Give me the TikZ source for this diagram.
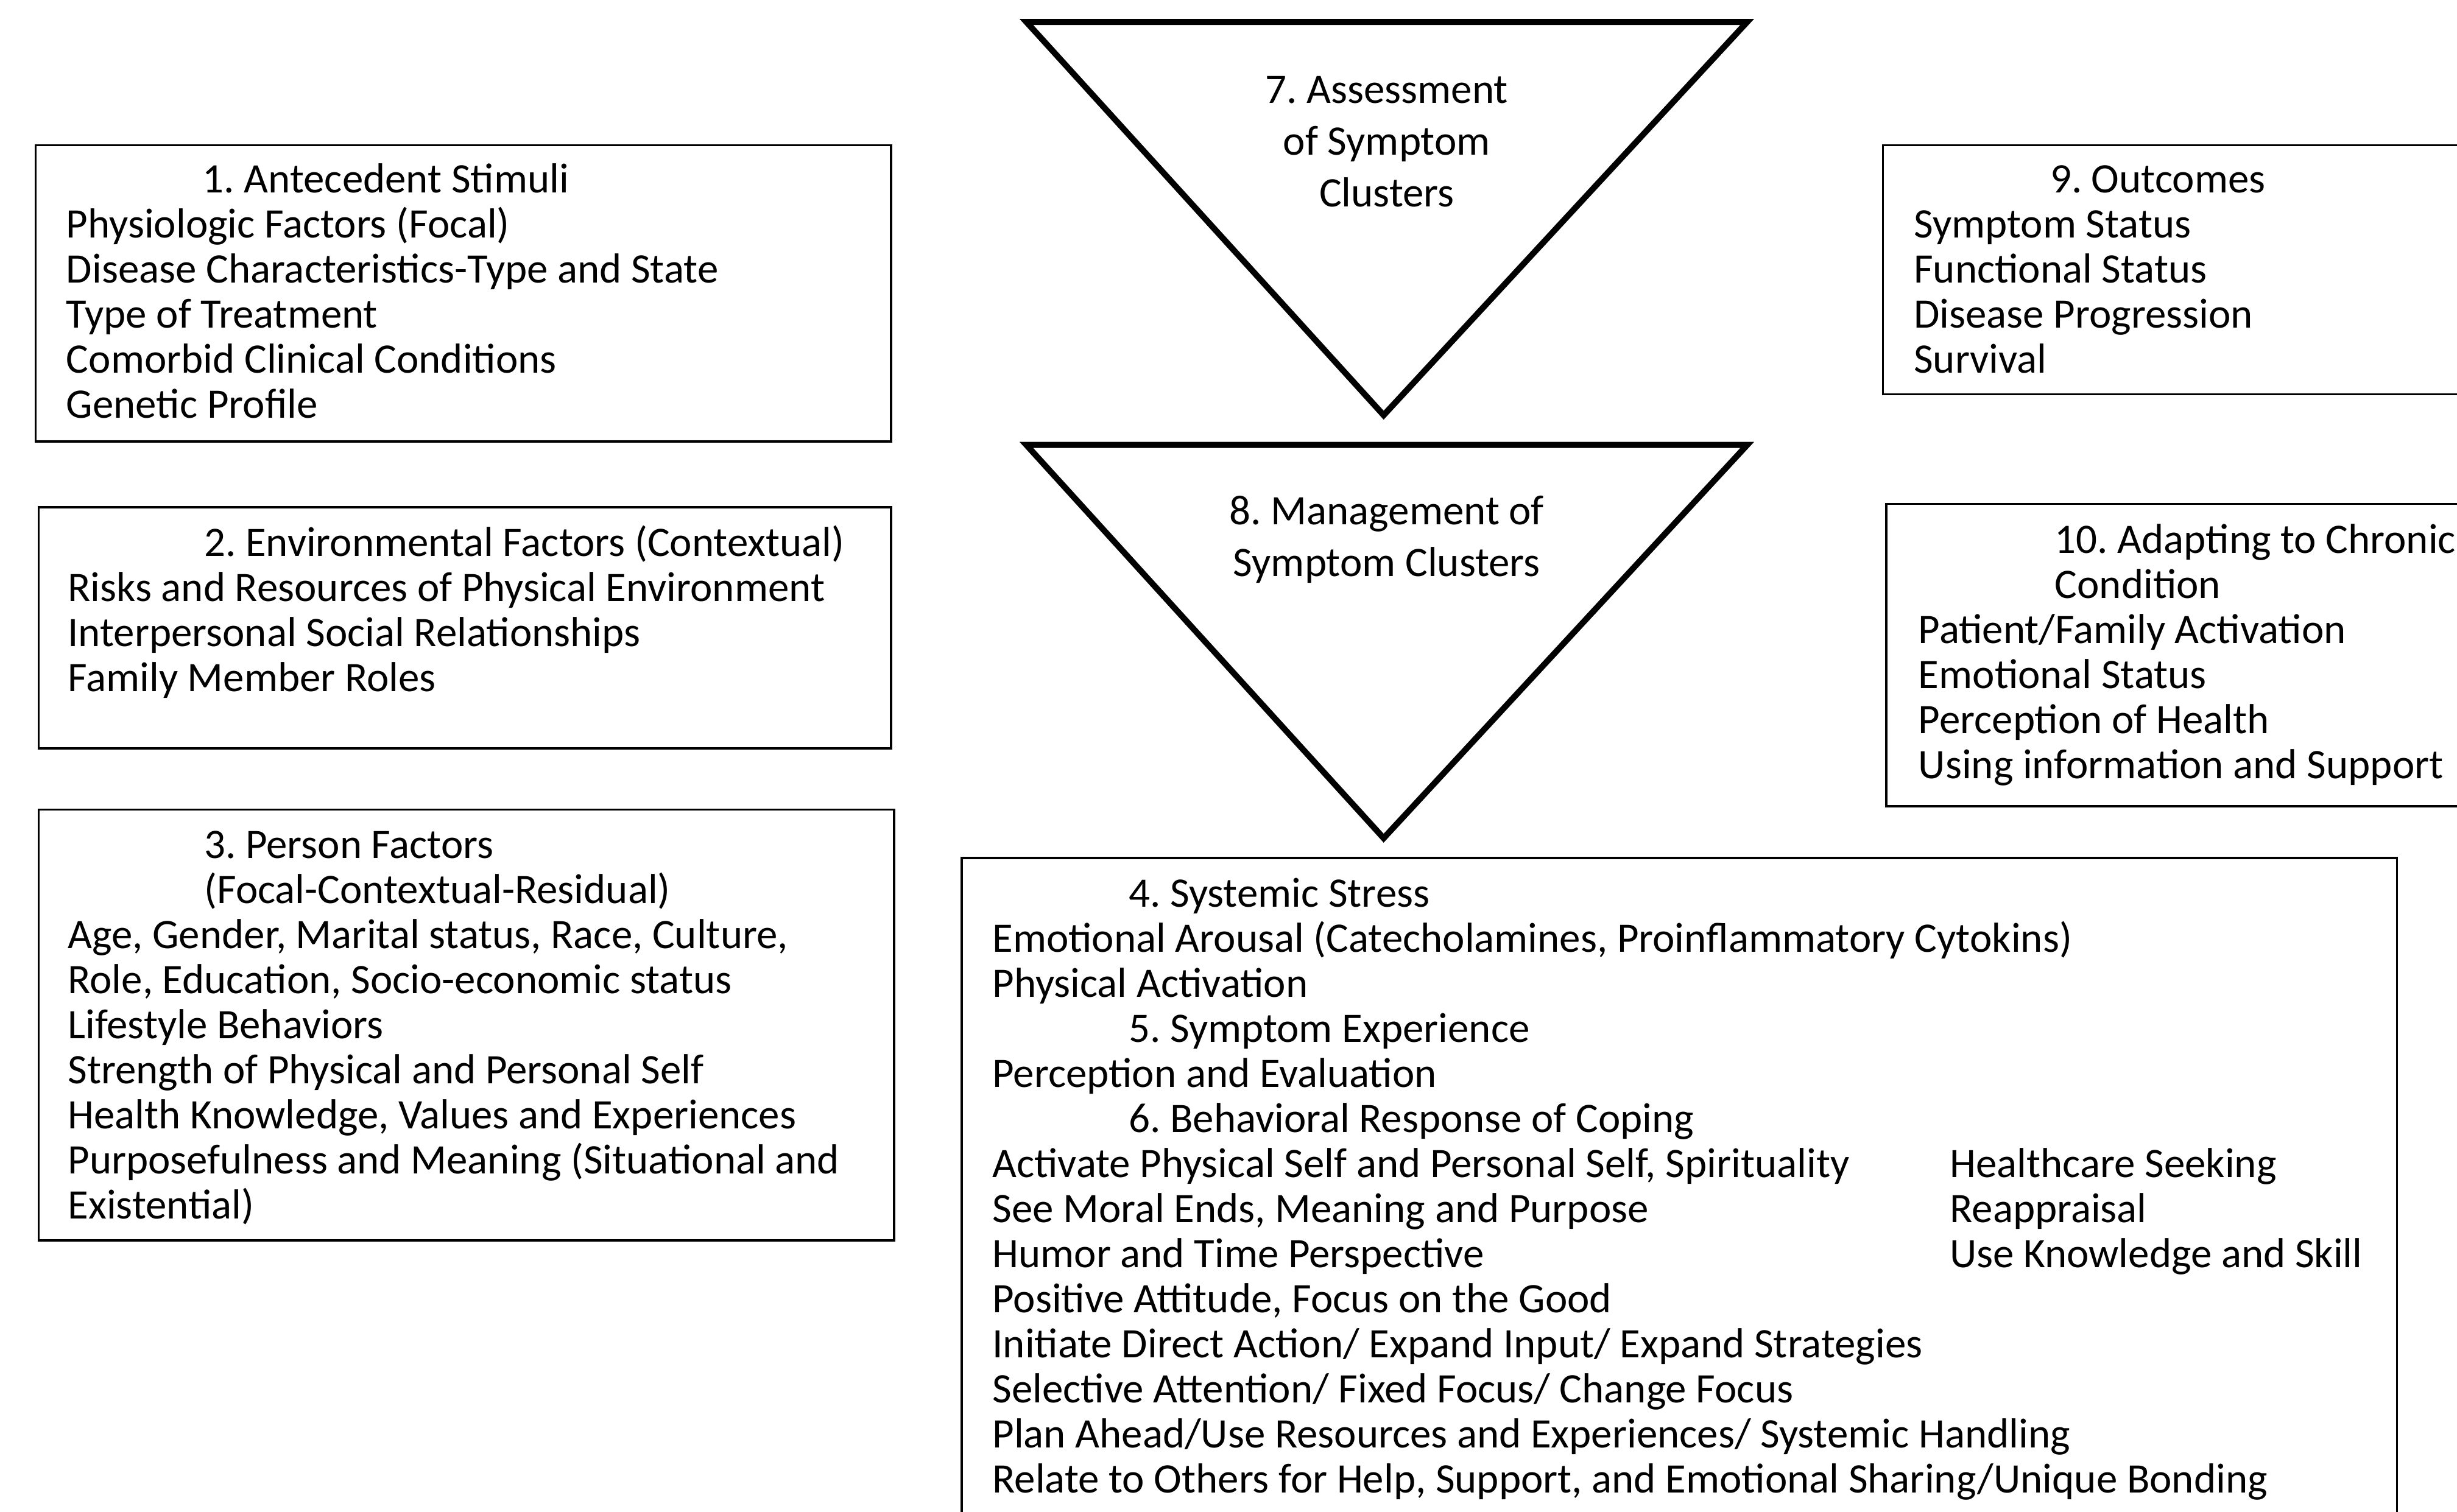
\documentclass[tikz,border=0pt]{standalone}
\usepackage{fontspec}
\setmainfont{Carlito}
\usetikzlibrary{positioning}

\newcommand{\hind}{\hspace*{1.74cm}}
\frenchspacing

\begin{document}
\begin{tikzpicture}[font=\fontsize{15.25}{18}\selectfont,
    box/.style={draw, line width=0.8pt, anchor=north west, inner sep=0pt},
    tri/.style={draw, line width=2.2pt, line join=miter},
    item/.style={anchor=base west, inner sep=0pt},
    ctext/.style={anchor=base, inner sep=0pt}]

    \useasboundingbox (0,0) rectangle (31.36,-19.3);
    \clip (0,0) rectangle (31.36,-19.3);

    % left column
    \node[box, minimum width=10.92cm, minimum height=3.78cm] (stim) at (0.44,-1.84) {};
    \foreach \t [count=\i from 0] in {\hind 1. Antecedent Stimuli, Physiologic Factors (Focal),
        Disease Characteristics-Type and State, Type of Treatment,
        Comorbid Clinical Conditions, Genetic Profile}
        \node[item] (stim-\i) at (0.84,{-2.46-0.575*\i}) {\t};

    \node[box, minimum width=10.88cm, minimum height=3.08cm] (env) at (0.48,-6.46) {};
    \foreach \t [count=\i from 0] in {\hind 2. Environmental Factors (Contextual),
        Risks and Resources of Physical Environment,
        Interpersonal Social Relationships, Family Member Roles}
        \node[item] (env-\i) at (0.86,{-7.10-0.575*\i}) {\t};

    \node[box, minimum width=10.92cm, minimum height=5.50cm] (person) at (0.48,-10.32) {};
    \foreach \t [count=\i from 0] in {\hind 3. Person Factors, \hind (Focal-Contextual-Residual),
        {Age, Gender, Marital status, Race, Culture,},
        {Role, Education, Socio-economic status}, Lifestyle Behaviors,
        Strength of Physical and Personal Self,
        {Health Knowledge, Values and Experiences},
        Purposefulness and Meaning (Situational and, Existential)}
        \node[item] (person-\i) at (0.86,{-10.96-0.575*\i}) {\t};

    % middle triangles
    \draw[tri] (13.10,-0.28) -- (22.30,-0.28) -- (17.66,-5.30) -- cycle;
    \foreach \t [count=\i from 0] in {7. Assessment, of Symptom, Clusters}
        \node[ctext] (assess-\i) at (17.70,{-1.32-0.66*\i}) {\t};

    \draw[tri] (13.10,-5.68) -- (22.30,-5.68) -- (17.66,-10.70) -- cycle;
    \foreach \t [count=\i from 0] in {8. Management of, Symptom Clusters}
        \node[ctext] (manage-\i) at (17.70,{-6.70-0.66*\i}) {\t};

    % stress and coping
    \node[box, minimum width=18.32cm, minimum height=9cm] (stress) at (12.26,-10.94) {};
    \foreach \t [count=\i from 0] in {\hind 4. Systemic Stress,
        {Emotional Arousal (Catecholamines, Proinflammatory Cytokins)},
        Physical Activation, \hind 5. Symptom Experience,
        Perception and Evaluation, \hind 6. Behavioral Response of Coping,
        {Activate Physical Self and Personal Self, Spirituality},
        {See Moral Ends, Meaning and Purpose}, Humor and Time Perspective,
        {Positive Attitude, Focus on the Good},
        Initiate Direct Action/ Expand Input/ Expand Strategies,
        Selective Attention/ Fixed Focus/ Change Focus,
        Plan Ahead/Use Resources and Experiences/ Systemic Handling,
        {Relate to Others for Help, Support, and Emotional Sharing/Unique Bonding}}
        \node[item] (stress-\i) at (12.66,{-11.58-0.575*\i}) {\t};
    \foreach \t [count=\i from 6] in {Healthcare Seeking, Reappraisal, Use Knowledge and Skill}
        \node[item] (cope-\i) at (24.88,{-11.58-0.575*\i}) {\t};

    % right column
    \node[box, minimum width=8cm, minimum height=3.18cm] (outcome) at (24.02,-1.84) {};
    \foreach \t [count=\i from 0] in {\hind 9. Outcomes, Symptom Status, Functional Status,
        Disease Progression, Survival}
        \node[item] (outcome-\i) at (24.42,{-2.46-0.575*\i}) {\t};

    \node[box, minimum width=8cm, minimum height=3.86cm] (adapt) at (24.06,-6.42) {};
    \foreach \t [count=\i from 0] in {\hind 10. Adapting to Chronic, \hind Condition,
        Patient/Family Activation, Emotional Status, Perception of Health,
        Using information and Support}
        \node[item] (adapt-\i) at (24.48,{-7.06-0.575*\i}) {\t};
\end{tikzpicture}
\end{document}
